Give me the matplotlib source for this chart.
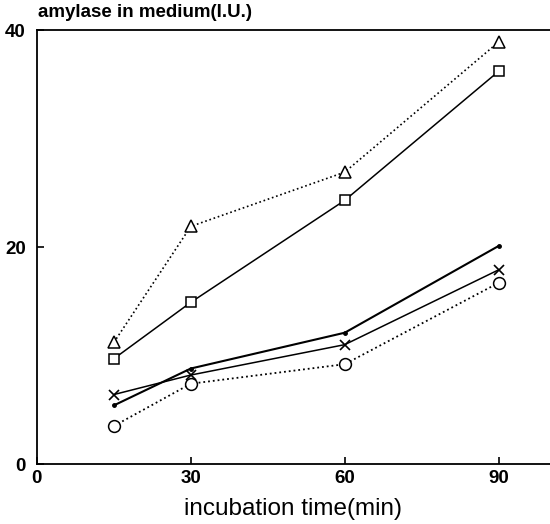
import matplotlib
matplotlib.use("Agg")
import matplotlib.pyplot as plt

plt.rcParams['font.family'] = ['Liberation Sans', 'DejaVu Sans']

time_min = [15, 30, 60, 90]
triangle = [11.2, 21.9, 26.9, 38.9]
square = [9.7, 14.9, 24.3, 36.2]
dot = [5.4, 8.8, 12.1, 20.1]
cross = [6.4, 8.2, 11.0, 17.9]
circle = [3.5, 7.4, 9.2, 16.7]

xticks = [0, 30, 60, 90]
yticks = [0, 20, 40]

fig = plt.figure(figsize=(5.5, 5.24), dpi=100)
ax = fig.add_axes([0.067, 0.1145, 0.933, 0.8282])

k = 'black'
ax.plot(time_min, triangle, linestyle=':', color=k, lw=1.2, marker='^', ms=8,
        mfc='white', mec=k, mew=1.1)
ax.plot(time_min, square, linestyle='-', color=k, lw=1.1, marker='s', ms=7,
        mfc='white', mec=k, mew=1.1)
ax.plot(time_min, dot, linestyle='-', color=k, lw=1.5, marker='o', ms=2.5,
        mfc=k, mec=k)
ax.plot(time_min, cross, linestyle='-', color=k, lw=1.1, marker='x', ms=7,
        mec=k, mew=1.2)
ax.plot(time_min, circle, linestyle=':', color=k, lw=1.3, marker='o', ms=8.5,
        mfc='white', mec=k, mew=1.1)

ax.set_xlim(0, 100)
ax.set_ylim(0, 40)
ax.set_xticks(xticks)
ax.set_yticks(yticks)
ax.set_xticklabels([str(v) for v in xticks], fontsize=13.5, fontweight='bold')
ax.set_yticklabels([str(v) for v in yticks], fontsize=13.5, fontweight='bold')
ax.tick_params(axis='both', direction='in', length=5, width=1.2, pad=4)
ax.tick_params(axis='y', pad=8)

for s in ['left', 'bottom', 'top']:
    ax.spines[s].set_linewidth(1.3)
ax.spines['right'].set_visible(False)

ax.set_xlabel('incubation time(min)', fontsize=17.5, labelpad=8)
fig.text(0.069, 0.976, 'amylase in medium(I.U.)', fontsize=13.5,
         fontweight='bold', ha='left', va='center')

fig.savefig('out.png', dpi=100)
